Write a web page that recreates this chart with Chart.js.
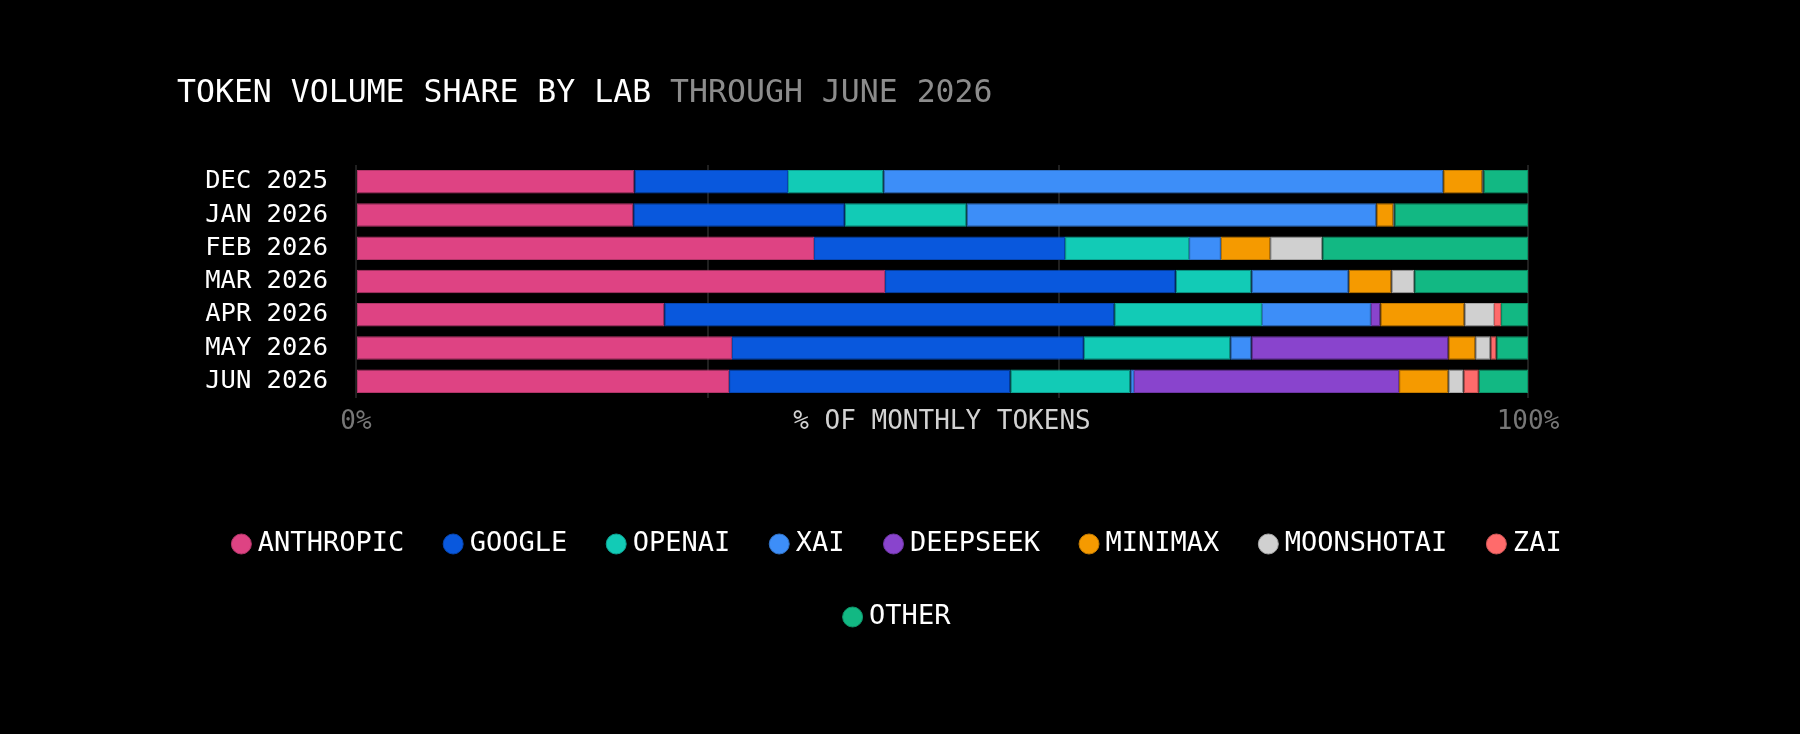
<!DOCTYPE html>
<html>
<head>
<meta charset="utf-8">
<script src="https://cdn.jsdelivr.net/npm/chart.js@4"></script>
<style>
  html, body { margin: 0; padding: 0; background: #000; }
  #wrap { position: relative; width: 1800px; height: 734px; }
  #title {
    position: absolute; left: 177px; top: 75.5px; margin: 0;
    font: 31.5px/1 'DejaVu Sans Mono', monospace; font-weight: normal;
    color: #fff; white-space: pre;
  }
  #title span { color: #8c8c8c; }
</style>
</head>
<body>
<div id="wrap">
  <h1 id="title">TOKEN VOLUME SHARE BY LAB <span>THROUGH JUNE 2026</span></h1>
  <canvas id="chart" width="1800" height="734"></canvas>
</div>
<script>
const months = ['DEC 2025', 'JAN 2026', 'FEB 2026', 'MAR 2026', 'APR 2026', 'MAY 2026', 'JUN 2026'];
const labs = ['ANTHROPIC', 'GOOGLE', 'OPENAI', 'XAI', 'DEEPSEEK', 'MINIMAX', 'MOONSHOTAI', 'ZAI', 'OTHER'];

// share of monthly tokens, percent
const anthropic  = [23.75, 23.66, 39.08, 45.14, 26.3, 32.08, 31.83];
const google     = [13.11, 18.04, 21.42, 24.8, 38.4, 30.02, 24.0];
const openai     = [8.14, 10.4, 10.58, 6.46, 12.6, 12.5, 10.24];
const xai        = [47.77, 34.96, 2.72, 8.3, 9.3, 1.8, 0.31];
const deepseek   = [0, 0, 0, 0, 0.8, 16.8, 22.62];
const minimax    = [3.33, 1.44, 4.2, 3.64, 7.17, 2.3, 4.2];
const moonshotai = [0.1, 0.1, 4.45, 1.96, 2.53, 1.3, 1.3];
const zai        = [0, 0, 0, 0, 0.6, 0.5, 1.3];
const other      = [3.8, 11.4, 17.55, 9.7, 2.3, 2.7, 4.2];

const xTickValues = [0, 30, 50, 60, 100];
const xTickLabels = ['0%', '', '% OF MONTHLY TOKENS', '', '100%'];

const colors = ['#de4383', '#0958dd', '#12cbb6', '#3d8ef8', '#8944cd', '#f59a00', '#d0d0d0', '#ff6b6b', '#12b883'];

function darken(hex, f) {
  const n = parseInt(hex.slice(1), 16);
  const r = Math.round(((n >> 16) & 255) * f);
  const g = Math.round(((n >> 8) & 255) * f);
  const b = Math.round((n & 255) * f);
  return `rgb(${r},${g},${b})`;
}

const series = [anthropic, google, openai, xai, deepseek, minimax, moonshotai, zai, other];

Chart.defaults.font.family = "'DejaVu Sans Mono', monospace";

new Chart(document.getElementById('chart'), {
  type: 'bar',
  data: {
    labels: months,
    datasets: series.map((data, i) => ({
      label: labs[i],
      data,
      backgroundColor: colors[i],
      borderColor: darken(colors[i], 0.8),
      borderWidth: 1,
      borderSkipped: false,
      categoryPercentage: 1,
      barPercentage: 0.705
    }))
  },
  options: {
    indexAxis: 'y',
    responsive: false,
    animation: false,
    layout: { padding: { left: 150, right: 150, top: 165, bottom: 93.5 } },
    scales: {
      x: {
        stacked: true,
        min: 0,
        max: 100,
        afterBuildTicks(axis) {
          axis.ticks = xTickValues.map(v => ({ value: v }));
        },
        afterFit(axis) { axis.height = 86.5; },
        ticks: {
          autoSkip: false,
          maxRotation: 0,
          padding: 9,
          font: { size: 26 },
          color: c => c.tick && c.tick.value === 50 ? '#d2d2d2' : '#777',
          callback: v => xTickLabels[xTickValues.indexOf(v)]
        },
        grid: {
          drawTicks: false,
          color: c => c.tick && c.tick.value === 50 ? 'rgba(0,0,0,0)' : '#202020',
          lineWidth: 2
        },
        border: { display: false }
      },
      y: {
        stacked: true,
        afterFit(axis) { axis.width = 206; },
        ticks: { autoSkip: false, padding: 20, color: '#fff', font: { size: 25.5 } },
        grid: { display: false },
        border: { display: false }
      },
      yR: {
        type: 'linear',
        position: 'right',
        afterFit(axis) { axis.width = 122; },
        ticks: { display: false },
        grid: { display: false },
        border: { display: false }
      }
    },
    plugins: {
      legend: {
        position: 'bottom',
        labels: {
          usePointStyle: true,
          pointStyle: 'circle',
          boxWidth: 6,
          boxHeight: 14.14,
          padding: 46,
          color: '#fff',
          font: { size: 27 }
        }
      },
      tooltip: { enabled: false }
    }
  }
});
</script>
</body>
</html>
